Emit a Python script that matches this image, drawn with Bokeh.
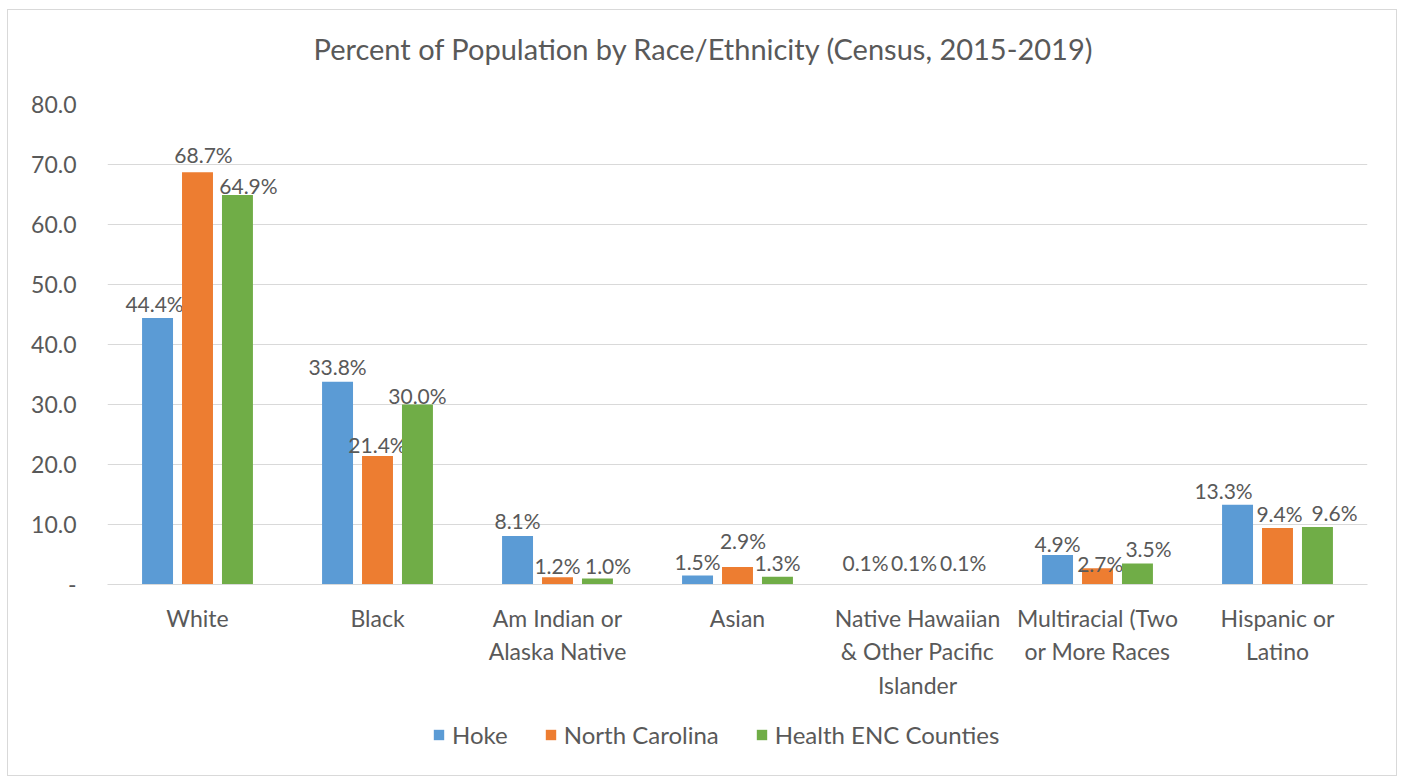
from bokeh.plotting import figure
from bokeh.layouts import column
from bokeh.models import (ColumnDataSource, FixedTicker, NumeralTickFormatter, Legend, LegendItem,
                          Range1d, Div)
from bokeh.transform import dodge
from bokeh.core.properties import value
from bokeh.embed import file_html
from bokeh.resources import INLINE

title_text = "Percent of Population by Race/Ethnicity (Census, 2015-2019)"
categories = ["White", "Black", "Am Indian or\nAlaska Native", "Asian",
              "Native Hawaiian\n& Other Pacific\nIslander",
              "Multiracial (Two\nor More Races", "Hispanic or\nLatino"]
hoke = [44.4, 33.8, 8.1, 1.5, 0.1, 4.9, 13.3]
north_carolina = [68.7, 21.4, 1.2, 2.9, 0.1, 2.7, 9.4]
health_enc = [64.9, 30.0, 1.0, 1.3, 0.1, 3.5, 9.6]
series_names = ["Hoke", "North Carolina", "Health ENC Counties"]
colors = ["#5B9BD5", "#ED7D31", "#70AD47"]
y_ticks = [0, 10, 20, 30, 40, 50, 60, 70, 80]

# data-label nudges in screen pixels (layout only, as placed in the reference)
hoke_dx = [-3, 0, 0, 0, -12, 0, -14]
hoke_dy = [7.6, 8, 8, 7, 14, 5, 7]
nc_dx = [6, 0, 0, 5.5, -3.5, 2.7, 2]
nc_dy = [10.6, 5, 5, 20, 14, -2, 7.7]
enc_dx = [11, 0, 10.6, 0, 5.7, 11, 17]
enc_dy = [3, 1.6, 6, 7.7, 14, 8, 7]
BASE_DY = 7

FONT = "Lato"
TXT = "#595959"

src = ColumnDataSource(dict(
    cat=categories,
    hoke=hoke, nc=north_carolina, enc=health_enc,
    hoke_l=[f"{v:.1f}%" for v in hoke],
    nc_l=[f"{v:.1f}%" for v in north_carolina],
    enc_l=[f"{v:.1f}%" for v in health_enc],
    hoke_dx=hoke_dx, hoke_dy=[-(d + BASE_DY) for d in hoke_dy],
    nc_dx=nc_dx, nc_dy=[-(d + BASE_DY) for d in nc_dy],
    enc_dx=enc_dx, enc_dy=[-(d + BASE_DY) for d in enc_dy],
))

W = 1388

# title strip
head = Div(text=(f'<div style="width:{W}px; text-align:center; font-family:Lato; font-size:29px; '
                 f'color:{TXT}; line-height:35px; padding-top:21px; margin-left:1px;">{title_text}</div>'),
           width=W, height=60, margin=(0, 0, 0, 0), styles={"background-color": "white"})

p = figure(x_range=categories, y_range=(0, 80), width=W, height=640, title=None,
           output_backend="svg", toolbar_location=None,
           min_border_left=99, min_border_right=29, min_border_top=34, min_border_bottom=126)
p.x_range.range_padding = 0
p.outline_line_color = None
p.background_fill_color = "white"
p.border_fill_color = "white"

fields = ["hoke", "nc", "enc"]
offsets = [-0.222, 0.0, 0.222]
for f, off, c in zip(fields, offsets, colors):
    p.vbar(x=dodge("cat", off, range=p.x_range), top=f, width=0.172, source=src,
           fill_color=c, line_color=None)
    p.text(x=dodge("cat", off, range=p.x_range), y=f, text=f + "_l", source=src,
           x_offset=f + "_dx", y_offset=f + "_dy",
           text_font=value(FONT), text_font_size="21px", text_color=TXT,
           text_align="center", text_baseline="alphabetic")

p.yaxis.ticker = FixedTicker(ticks=y_ticks)
p.yaxis.formatter = NumeralTickFormatter(format="0.0")
p.yaxis.major_label_overrides = {0: "-"}
p.yaxis.axis_line_color = None
p.yaxis.major_tick_line_color = None
p.yaxis.minor_tick_line_color = None
p.yaxis.major_label_standoff = 25
p.yaxis.major_label_text_font = FONT
p.yaxis.major_label_text_font_size = "23px"
p.yaxis.major_label_text_color = TXT

p.xaxis.axis_line_color = "#d9d9d9"
p.xaxis.major_tick_line_color = None
p.xaxis.minor_tick_line_color = None
p.xaxis.major_label_standoff = 13
p.xaxis.major_label_text_font = FONT
p.xaxis.major_label_text_font_size = "23px"
p.xaxis.major_label_text_color = TXT
p.xgrid.grid_line_color = None
p.ygrid.grid_line_color = "#d9d9d9"
p.ygrid.ticker = FixedTicker(ticks=y_ticks)

# legend strip below the chart (swatch renderers sit outside the visible range)
lg = figure(width=W, height=65, output_backend="svg", toolbar_location=None,
            x_range=Range1d(0, 1), y_range=Range1d(0, 1), min_border=0)
lg.axis.visible = False
lg.grid.visible = False
lg.outline_line_color = None
lg.border_fill_color = "white"
swatches = [lg.vbar(x=[-5], top=[-5], width=0.1, fill_color=c, line_color=None) for c in colors]
legend = Legend(items=[LegendItem(label=n, renderers=[r]) for n, r in zip(series_names, swatches)],
                orientation="horizontal", location=(325, 26),
                border_line_color=None, background_fill_alpha=0,
                label_text_font=FONT, label_text_font_size="24px", label_text_color=TXT,
                glyph_width=13, glyph_height=13, label_standoff=7, spacing=36,
                padding=0, margin=0, label_height=24)
lg.add_layout(legend, "center")

layout = column(head, p, lg, spacing=0,
                styles={"border": "1px solid #d9d9d9", "margin-left": "7px", "margin-top": "9px",
                        "background-color": "white"})

open("out.html", "w").write(file_html(layout, INLINE))
